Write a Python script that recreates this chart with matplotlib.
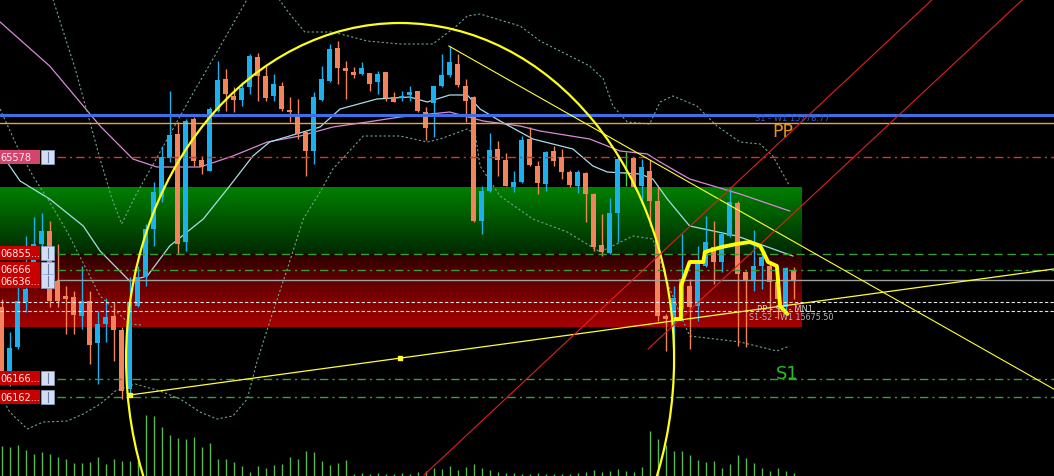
"""
MT4 风格的 K 线截图复刻：蜡烛图 + 布林带 + 均线 + 画线对象 + 成交量
"""

import numpy as np
import matplotlib
matplotlib.use('Agg')
import matplotlib.pyplot as plt
from matplotlib.patches import Ellipse, Rectangle
from matplotlib.transforms import blended_transform_factory

# ---------------- 数据 ----------------
# K 线 (每根一个 bar，从 0 开始)
opens = [15683, 15650.5, 15663, 15685.5, 15702, 15714.5, 15721, 15696, 15688.5, 15688,
         15678.5, 15686, 15665, 15674.5, 15678.5, 15671.5, 15642, 15683.5, 15698, 15722,
         15738, 15757.5, 15769.5, 15715.5, 15777, 15756.5, 15751, 15781, 15797, 15788.5,
         15786.5, 15793, 15808, 15798.5, 15788.5, 15793.5, 15781.5, 15779.5, 15770.5, 15761,
         15786.5, 15796, 15812.5, 15802.5, 15800.5, 15799.5, 15800, 15795.5, 15800.5, 15788,
         15787.5, 15789, 15791, 15780.5, 15785, 15793.5, 15799, 15804.5, 15793.5, 15788,
         15726, 15741, 15762, 15756.5, 15743, 15745.5, 15767, 15753.5, 15744.5, 15761,
         15758, 15750.5, 15743.5, 15750, 15739.5, 15714, 15710, 15730, 15750, 15757.5,
         15743.5, 15751, 15736, 15678.5, 15677, 15682, 15693.5, 15683.5, 15703.5, 15713,
         15705.5, 15718.5, 15735, 15700.5, 15696, 15703.5, 15703.5, 15695.5, 15683, 15701]
highs = [15687, 15670.5, 15694, 15718.5, 15728, 15730, 15726, 15714.5, 15693.5, 15691,
         15703.5, 15691, 15681, 15687.5, 15685.5, 15673, 15698, 15703.5, 15724.5, 15745.5,
         15763.5, 15791, 15775.5, 15777, 15778, 15758.5, 15783, 15806, 15802, 15793,
         15795.5, 15809.5, 15810, 15803.5, 15799.5, 15795.5, 15788, 15787, 15771, 15790.5,
         15803.5, 15814.5, 15816, 15806, 15803, 15805.5, 15800, 15801, 15800.5, 15790.5,
         15791, 15793.5, 15791, 15783, 15793.5, 15809.5, 15813.5, 15809.5, 15797, 15788.5,
         15743.5, 15770, 15766, 15760, 15751, 15768.5, 15773, 15756, 15761, 15763.5,
         15762, 15751.5, 15751.5, 15750.5, 15740, 15729.5, 15737.5, 15759.5, 15760.5, 15758,
         15757, 15756.5, 15743, 15679.5, 15693.5, 15719.5, 15697, 15713.5, 15728.5, 15726,
         15720.5, 15743, 15736, 15701, 15721.5, 15713.5, 15705.5, 15699.5, 15703, 15703]
lows = [15648, 15643.5, 15662, 15680.5, 15699.5, 15708.5, 15683, 15683, 15669.5, 15669.5,
        15672, 15654.5, 15644.5, 15665.5, 15656, 15637, 15638.5, 15683, 15693.5, 15713.5,
        15735.5, 15755.5, 15709.5, 15711, 15753.5, 15749.5, 15751, 15780.5, 15781, 15780.5,
        15783.5, 15789.5, 15786, 15786, 15786, 15781, 15775.5, 15767, 15748.5, 15754.5,
        15786, 15795.5, 15794.5, 15787, 15797.5, 15799, 15791, 15789.5, 15786, 15785.5,
        15786, 15786, 15780.5, 15766.5, 15768, 15793, 15798, 15793, 15775.5, 15725.5,
        15719.5, 15740.5, 15748.5, 15743.5, 15740.5, 15745, 15753.5, 15739.5, 15741, 15753.5,
        15747, 15743, 15740, 15725.5, 15711, 15708.5, 15709.5, 15715.5, 15743.5, 15743,
        15734.5, 15723.5, 15676, 15661, 15662, 15676, 15662, 15676, 15703, 15694.5,
        15700.5, 15718, 15663.5, 15663, 15691, 15692, 15680.5, 15677, 15679.5, 15687]
closes = [15650.5, 15662.5, 15686, 15692, 15714.5, 15721, 15686, 15686, 15687, 15679,
          15686, 15664, 15674.5, 15678, 15671.5, 15641, 15685.5, 15698, 15722, 15740.5,
          15758, 15769, 15714.5, 15776, 15756, 15753, 15782, 15796.5, 15789.5, 15786.5,
          15792.5, 15808.5, 15798.5, 15787.5, 15794.5, 15782, 15780.5, 15769.5, 15761, 15788,
          15797, 15812, 15802.5, 15801, 15799, 15802.5, 15794.5, 15799.5, 15787.5, 15785.5,
          15788.5, 15790.5, 15781, 15772.5, 15793.5, 15799, 15805.5, 15794, 15786, 15726,
          15741, 15761.5, 15756.5, 15743.5, 15745.5, 15766.5, 15754, 15745, 15760.5, 15756,
          15750.5, 15744, 15750.5, 15739.5, 15713, 15710.5, 15730, 15757, 15750.5, 15743,
          15753, 15736, 15678.5, 15677, 15687.5, 15697, 15683, 15704.5, 15715.5, 15705.5,
          15719.5, 15735.5, 15699.5, 15696, 15703.5, 15708, 15695.5, 15687, 15702.5, 15696]
volumes = [30, 29, 31, 26, 22, 24, 22, 19, 17, 13, 13, 14, 19, 12, 17, 15, 15, 15, 61, 60,
           49, 41, 38, 37, 39, 29, 33, 17, 17, 14, 10, 4, 10, 8, 11, 12, 19, 17, 25, 24,
           15, 11, 13, 16, 2, 3, 2, 3, 2, 2, 3, 2, 4, 5, 8, 7, 10, 6, 9, 12,
           8, 6, 4, 3, 3, 2, 2, 3, 2, 2, 2, 2, 3, 4, 6, 4, 5, 7, 5, 4,
           9, 45, 37, 31, 25, 25, 21, 16, 14, 15, 8, 12, 21, 18, 13, 8, 5, 8, 5, 3]

# 均线 (bar 位置, 价格)
ma_violet_x = [-0.2, 6.0, 12.3, 16.4, 19.4, 24.8, 28.9, 33.2, 37.3, 41.4, 45.7, 49.8,
               56.0, 60.2, 64.8, 67.3, 73.5, 77.3, 80.7, 82.3, 86.0, 92.3, 98.5]
ma_violet_y = [15825.5, 15803.5, 15773.5, 15757, 15753, 15753, 15758.5, 15765.5, 15768.5,
               15773, 15775.5, 15778, 15780.5, 15776, 15773.5, 15771, 15767, 15761,
               15759.5, 15755.5, 15747, 15739.5, 15731]
ma_cyan_x = [-0.2, 2.3, 6.0, 10.2, 12.3, 16.0, 18.2, 21.0, 25.2, 28.5, 31.4, 33.5, 36.4,
             39.8, 42.3, 46.9, 51.0, 53.2, 56.0, 58.2, 59.8, 62.3, 66.4, 71.4, 73.9, 75.7,
             79.8, 81.4, 83.2, 86.0, 91.9, 98.9]
ma_cyan_y = [15760.5, 15746, 15737, 15723.5, 15711, 15696, 15698.5, 15713.5, 15727,
             15743.5, 15758.5, 15765.5, 15769, 15773, 15782, 15787, 15788, 15785.5, 15789,
             15789, 15782, 15776, 15767, 15762, 15753.5, 15750.5, 15749.5, 15747, 15737,
             15723.5, 15718.5, 15708.5]

# 布林带 (点线)
bb_upper_x = [6.4, 9.2, 12.3, 13.8, 15.0, 16.7, 19.8, 23.5, 26.7, 29.2, 30.7, 32.3, 34.2,
              36.0, 37.9, 41.4, 45.7, 49.8, 53.9, 56.7, 58.2, 59.8, 64.8, 67.3, 73.5, 75.2,
              76.4, 78.2, 81.0, 82.3, 83.9, 86.9, 89.4, 92.3, 94.8, 96.4, 98.5]
bb_upper_y = [15837, 15802, 15757, 15737, 15724.5, 15738.5, 15760.5, 15787, 15809, 15826.5,
              15837, 15844.5, 15839.5, 15829.5, 15820.5, 15820.5, 15816, 15814.5, 15814.5,
              15823, 15828.5, 15829.5, 15823.5, 15816, 15803.5, 15797, 15783.5, 15775.5,
              15774.5, 15785.5, 15788.5, 15783.5, 15773.5, 15765.5, 15764.5, 15758.5, 15743.5]
bb_lower_x = [-0.2, 1.0, 3.2, 5.2, 8.2, 10.2, 12.3, 14.2, 16.7, 19.8, 22.3, 24.8, 26.9,
              28.9, 30.7, 31.9, 33.9, 35.7, 37.7, 39.8, 41.4, 45.2, 49.8, 53.2, 54.8, 58.2,
              59.2, 59.8, 62.3, 66.4, 70.7, 74.8, 78.9, 81.4, 83.5, 86.0, 92.3, 96.9, 98.5]
bb_lower_y = [15639.5, 15630.5, 15622, 15625.5, 15626, 15629.5, 15634.5, 15641, 15644.5,
              15641, 15637, 15630.5, 15627, 15628.5, 15637, 15655.5, 15680.5, 15702, 15727,
              15740.5, 15752, 15768.5, 15768.5, 15765.5, 15767, 15772, 15769.5, 15753.5,
              15738.5, 15727, 15720.5, 15710.5, 15718.5, 15717, 15692, 15668.5, 15665.5,
              15661, 15663.5]
bb_left_x = [-0.2, 1.9, 3.9, 6.0, 8.2, 12.3, 16.0, 17.5]
bb_left_y = [15782, 15763.5, 15748.5, 15735.5, 15720.5, 15688.5, 15674.5, 15674]

# 黄色粗折线
step_x = [84.2, 84.9, 84.9, 86.0, 87.7, 87.9, 90.0, 91.9, 93.5, 94.8, 95.2, 95.8, 96.9,
          97.3, 98.2]
step_y = [15677, 15677, 15693.5, 15705.5, 15705.5, 15710.5, 15713, 15714.5, 15715.5,
          15713.5, 15710.5, 15705.5, 15703.5, 15683.5, 15679.5]

# 趋势线 (起点/终点)
trend_up_x = [16.0, 131.5]
trend_up_y = [15639, 15702]
trend_handle_x = [16.0, 49.8]
trend_handle_y = [15639, 15657.5]
trend_down_x = [55.9, 131.5]
trend_down_y = [15813.5, 15642]
red_a_x = [52.8, 116.4]
red_a_y = [15599, 15837]
red_b_x = [80.8, 127.7]
red_b_y = [15662, 15837]

# 椭圆
ellipse_bar = 49.8
ellipse_price = 15657
ellipse_bars = 68.5
ellipse_span = 336

# 水平线价格
level_prices = [15778.77, 15775, 15758, 15709.5, 15701.5, 15696.5, 15685.5, 15681,
                15647, 15638]

# 区域方框
zone_end = 100.0
green_top, green_bottom = 15743, 15709.5
red_top, red_bottom = 15709.5, 15673

# 左侧价格标签
tag_texts = ['65578', '06855...', '06666', '06636...', '06166...', '06162...']
tag_prices = [15758, 15710, 15702, 15696, 15647.5, 15638]

BULL = '#1cb0ee'
BEAR = '#f2845c'
DOJI = '#4fc94f'

W, H = 1054, 477


def draw_zones(ax):
    """绿色和红色渐变方框"""
    t = np.linspace(0, 1, 64)[:, None]
    green = np.dstack([0 * t, 0.50 - 0.34 * t, 0 * t])
    red = np.dstack([0.16 + 0.48 * t ** 0.8, 0 * t, 0 * t])
    ax.imshow(green, extent=[-0.21, zone_end, green_bottom, green_top],
              aspect='auto', interpolation='bilinear', zorder=0)
    ax.imshow(red, extent=[-0.21, zone_end, red_bottom, red_top],
              aspect='auto', interpolation='bilinear', zorder=0)


def draw_levels(ax):
    """水平线"""
    colors = ['#3f6fe6', '#f0a048', '#e03030', '#3c9c3c', '#3c9c3c', '#a0a0a0',
              '#e6e6e6', '#e6e6e6', '#3c9c3c', '#3c9c3c']
    widths = [2.2, 1.0, 1.0, 1.0, 1.0, 1.0, 0.8, 0.8, 1.0, 1.0]
    dashdot = (0, (6, 3, 1.5, 3))
    styles = ['-', '-', dashdot, (0, (6, 3.5)), dashdot, '-', (0, (3, 2)), (0, (3, 2)),
              dashdot, dashdot]
    starts = [0, 0, 57, 57, 57, 57, 0, 0, 57, 57]
    for p, c, lw, ls, s in zip(level_prices, colors, widths, styles, starts):
        ax.axhline(p, xmin=s / W, xmax=1, color=c, lw=lw, ls=ls, zorder=4)


def draw_indicators(ax):
    """均线和布林带"""
    ax.plot(ma_violet_x, ma_violet_y, color='#d88ad8', lw=0.9, zorder=2)
    ax.plot(ma_cyan_x, ma_cyan_y, color='#a8dcea', lw=0.9, zorder=2)
    for xs, ys in [(bb_upper_x, bb_upper_y), (bb_lower_x, bb_lower_y),
                   (bb_left_x, bb_left_y)]:
        ax.plot(xs, ys, color='#6fa385', lw=0.8, ls=(0, (2, 2)), zorder=2)


def draw_candles(ax):
    """K 线"""
    idx = np.arange(len(opens))
    o = np.array(opens)
    c = np.array(closes)
    colors = [DOJI if abs(cc - oo) < 0.75 else (BULL if cc > oo else BEAR)
              for oo, cc in zip(o, c)]
    ax.vlines(idx, lows, highs, colors=colors, lw=1.0, zorder=3)
    body = np.maximum(np.abs(c - o), 0.6)
    ax.bar(idx, body, bottom=np.minimum(o, c), width=0.58, color=colors,
           linewidth=0, zorder=3)


def draw_objects(ax):
    """画线对象：椭圆、趋势线、黄色折线"""
    ax.add_patch(Ellipse((ellipse_bar, ellipse_price), ellipse_bars, ellipse_span,
                         fill=False, ec='#ffff1a', lw=1.6, zorder=5))
    ax.plot(trend_up_x, trend_up_y, color='#ffff33', lw=0.9, zorder=5)
    ax.plot(trend_handle_x, trend_handle_y, ls='none', marker='s', ms=3,
            color='#ffff33', zorder=5)
    ax.plot(trend_down_x, trend_down_y, color='#ffff33', lw=0.8, zorder=5)
    ax.plot(red_a_x, red_a_y, color='#e02020', lw=0.8, zorder=5)
    ax.plot(red_b_x, red_b_y, color='#e02020', lw=0.8, zorder=5)
    ax.plot(step_x, step_y, color='#ffff00', lw=2.8, solid_joinstyle='round',
            solid_capstyle='round', zorder=6)


def draw_texts(ax):
    """右侧文字"""
    ax.text(94.2, 15777.8, 'S1 - W1 15778.77', color='#3a5cc8', fontsize=6,
            va='center', ha='left', zorder=7)
    ax.text(96.3, 15771, 'PP', color='#e8961e', fontsize=12.5, va='center',
            ha='left', zorder=7)
    ax.text(94.4, 15682.3, 'PP - S1 - MN1', color='#cfcfcf', fontsize=6,
            va='center', ha='left', zorder=7)
    ax.text(93.4, 15678.3, 'S1-S2 - W1 15675.50', color='#b4b4b4', fontsize=5.8,
            va='center', ha='left', zorder=7)
    ax.text(96.8, 15650, 'S1', color='#22c022', fontsize=13, va='center',
            ha='left', zorder=7)


def draw_tags(ax):
    """左侧红色价格标签"""
    trans = blended_transform_factory(ax.transAxes, ax.transData)
    for k, (text, price) in enumerate(zip(tag_texts, tag_prices)):
        fc = '#d4446c' if k == 0 else '#c80000'
        ax.add_patch(Rectangle((0, price - 3.3), 40 / W, 6.6, transform=trans,
                               fc=fc, ec='none', zorder=8))
        ax.add_patch(Rectangle((41 / W, price - 3.3), 13 / W, 6.6, transform=trans,
                               fc='#d3def4', ec='#8fa3c8', lw=0.5, zorder=8))
        ax.plot([47.5 / W] * 2, [price - 2.3, price + 2.3], transform=trans,
                color='#6a7fa6', lw=0.8, zorder=9)
        ax.text(0.5 / W, price, text, transform=trans, fontsize=7, color='#fff0f0',
                va='center', ha='left', zorder=9)


def draw_volume(ax):
    """成交量"""
    vax = ax.twinx()
    vax.set_zorder(ax.get_zorder() - 1)
    vax.vlines(np.arange(len(volumes)), 0, volumes, colors='#58b858', lw=1.0)
    vax.set_ylim(0, H)
    vax.axis('off')


def main():
    fig = plt.figure(figsize=(W / 100, H / 100), dpi=100, facecolor='black')
    ax = fig.add_axes([0, 0, 1, 1])
    ax.set_facecolor('black')

    draw_zones(ax)
    draw_levels(ax)
    draw_indicators(ax)
    draw_candles(ax)
    draw_objects(ax)
    draw_texts(ax)
    draw_tags(ax)

    ax.set_xlim(-0.21, 131.54)
    ax.set_ylim(15598.5, 15837)
    ax.axis('off')
    draw_volume(ax)

    fig.savefig('out.png', dpi=100, facecolor='black')


if __name__ == '__main__':
    main()
